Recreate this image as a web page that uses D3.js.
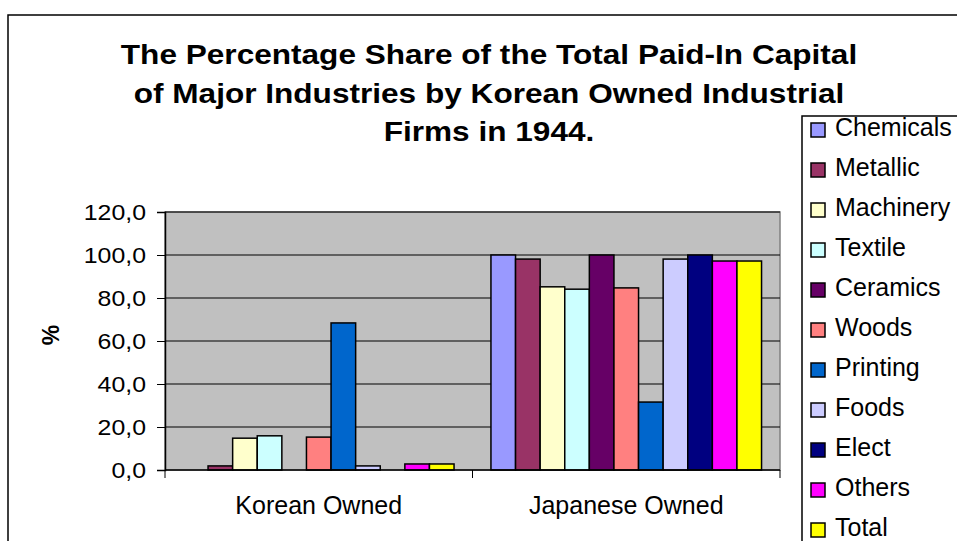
<!DOCTYPE html>
<html>
<head>
<meta charset="utf-8">
<script src="https://cdn.jsdelivr.net/npm/d3@7"></script>
<style>
  body { margin: 0; background: #fff; }
  text { font-family: Arial, "Liberation Sans", sans-serif; }
</style>
</head>
<body>
<svg id="chart" width="957" height="541"></svg>
<script>
// data
var groups = ["Korean Owned", "Japanese Owned"];
var industries = ["Chemicals", "Metallic", "Machinery", "Textile", "Ceramics", "Woods",
                  "Printing", "Foods", "Elect", "Others", "Total"];
var koreanValues = [0, 1.9, 14.8, 15.9, 0, 15.3, 68.4, 1.9, 0, 2.8, 2.8];
var japaneseValues = [100, 98.1, 85.2, 84.1, 100, 84.7, 31.6, 98.1, 100, 97.2, 97.2];
var colors = ["#9999FF", "#993366", "#FFFFCC", "#CCFFFF", "#660066", "#FF8080",
              "#0066CC", "#CCCCFF", "#000080", "#FF00FF", "#FFFF00"];
var yTicks = [0, 20, 40, 60, 80, 100, 120];
var titleLines = ["The Percentage Share of the Total Paid-In Capital",
                  "of Major Industries by Korean Owned Industrial",
                  "Firms in 1944."];

var svg = d3.select("#chart");

// chart frame
svg.append("rect")
    .attr("x", 8).attr("y", 15)
    .attr("width", 960).attr("height", 540)
    .attr("fill", "#fff").attr("stroke", "#000").attr("stroke-width", 1.5);

var plotLeft = 165, plotRight = 780, plotTop = 212, plotBottom = 470;

var x0 = d3.scaleBand().domain(groups).range([plotLeft, plotRight]).padding(0);
var x1 = d3.scaleBand().domain(industries).range([0, x0.bandwidth()])
    .paddingInner(0).paddingOuter(0.75);
var y = d3.scaleLinear().domain([0, 120]).range([plotBottom, plotTop]);
var color = d3.scaleOrdinal().domain(industries).range(colors);

// plot area
svg.append("rect")
    .attr("x", plotLeft).attr("y", plotTop)
    .attr("width", plotRight - plotLeft).attr("height", plotBottom - plotTop)
    .attr("fill", "#C0C0C0").attr("stroke", "#808080").attr("stroke-width", 1.5);

// gridlines
svg.append("g").selectAll("line")
    .data(yTicks.filter(function (t) { return t > 0; }))
    .join("line")
    .attr("x1", plotLeft).attr("x2", plotRight)
    .attr("y1", function (d) { return y(d); })
    .attr("y2", function (d) { return y(d); })
    .attr("stroke", "#000").attr("stroke-width", 1);

// bars
var rows = groups.map(function (g, gi) {
    var vals = gi === 0 ? koreanValues : japaneseValues;
    return industries.map(function (ind, i) {
        return { group: g, industry: ind, value: vals[i] };
    });
});

svg.append("g").selectAll("g")
    .data(rows)
    .join("g")
    .attr("transform", function (d) { return "translate(" + x0(d[0].group) + ",0)"; })
    .selectAll("rect")
    .data(function (d) { return d.filter(function (r) { return r.value > 0; }); })
    .join("rect")
    .attr("x", function (d) { return x1(d.industry); })
    .attr("width", x1.bandwidth())
    .attr("y", function (d) { return y(d.value); })
    .attr("height", function (d) { return y(0) - y(d.value); })
    .attr("fill", function (d) { return color(d.industry); })
    .attr("stroke", "#000").attr("stroke-width", 1.5);

// y axis
var yAxis = svg.append("g")
    .attr("transform", "translate(" + plotLeft + ",0)")
    .call(d3.axisLeft(y).tickValues(yTicks).tickSizeOuter(0).tickSize(8)
        .tickFormat(function (d) { return d3.format(".1f")(d).replace(".", ","); }));
yAxis.select(".domain").attr("stroke", "#000").attr("stroke-width", 1.5);
yAxis.selectAll(".tick line").attr("stroke", "#000");
yAxis.selectAll(".tick text")
    .attr("x", null).attr("dy", null)
    .attr("transform", "translate(-19,0) scale(1.13,1)")
    .attr("dominant-baseline", "central")
    .attr("font-size", 22).attr("fill", "#000")
    .attr("font-family", "Arial, 'Liberation Sans', sans-serif");

// x axis
svg.append("line")
    .attr("x1", plotLeft).attr("x2", plotRight)
    .attr("y1", plotBottom).attr("y2", plotBottom)
    .attr("stroke", "#000").attr("stroke-width", 1.5);
var xTickPos = [plotLeft].concat(groups.map(function (g) { return x0(g) + x0.bandwidth(); }));
svg.append("g").selectAll("line")
    .data(xTickPos)
    .join("line")
    .attr("x1", function (d) { return d; }).attr("x2", function (d) { return d; })
    .attr("y1", plotBottom).attr("y2", plotBottom + 8)
    .attr("stroke", "#000");
svg.append("g").selectAll("text")
    .data(groups)
    .join("text")
    .attr("x", function (d) { return x0(d) + x0.bandwidth() / 2; })
    .attr("y", 514)
    .attr("text-anchor", "middle")
    .attr("font-size", 25)
    .text(function (d) { return d; });

// y axis title
svg.append("text")
    .attr("transform", "translate(59,335) rotate(-90)")
    .attr("text-anchor", "middle")
    .attr("font-size", 23).attr("font-weight", "bold")
    .text("%");

// title
svg.append("g").selectAll("text")
    .data(titleLines)
    .join("text")
    .attr("transform", function (d, i) {
        return "translate(489," + (64 + i * 38.5) + ") scale(1.17,1)";
    })
    .attr("text-anchor", "middle")
    .attr("font-size", 27).attr("font-weight", "bold")
    .text(function (d) { return d; });

// legend
var legend = svg.append("g").attr("transform", "translate(802,116)");
legend.append("rect")
    .attr("width", 200).attr("height", 500)
    .attr("fill", "#fff").attr("stroke", "#000").attr("stroke-width", 1.5);
var item = legend.selectAll("g.item")
    .data(industries)
    .join("g")
    .attr("class", "item")
    .attr("transform", function (d, i) { return "translate(0," + (13 + i * 40) + ")"; });
item.append("rect")
    .attr("x", 9).attr("y", -6)
    .attr("width", 14).attr("height", 14)
    .attr("fill", function (d) { return color(d); })
    .attr("stroke", "#000").attr("stroke-width", 1.5);
item.append("text")
    .attr("x", 33).attr("y", 7)
    .attr("font-size", 25)
    .text(function (d) { return d; });
</script>
</body>
</html>
